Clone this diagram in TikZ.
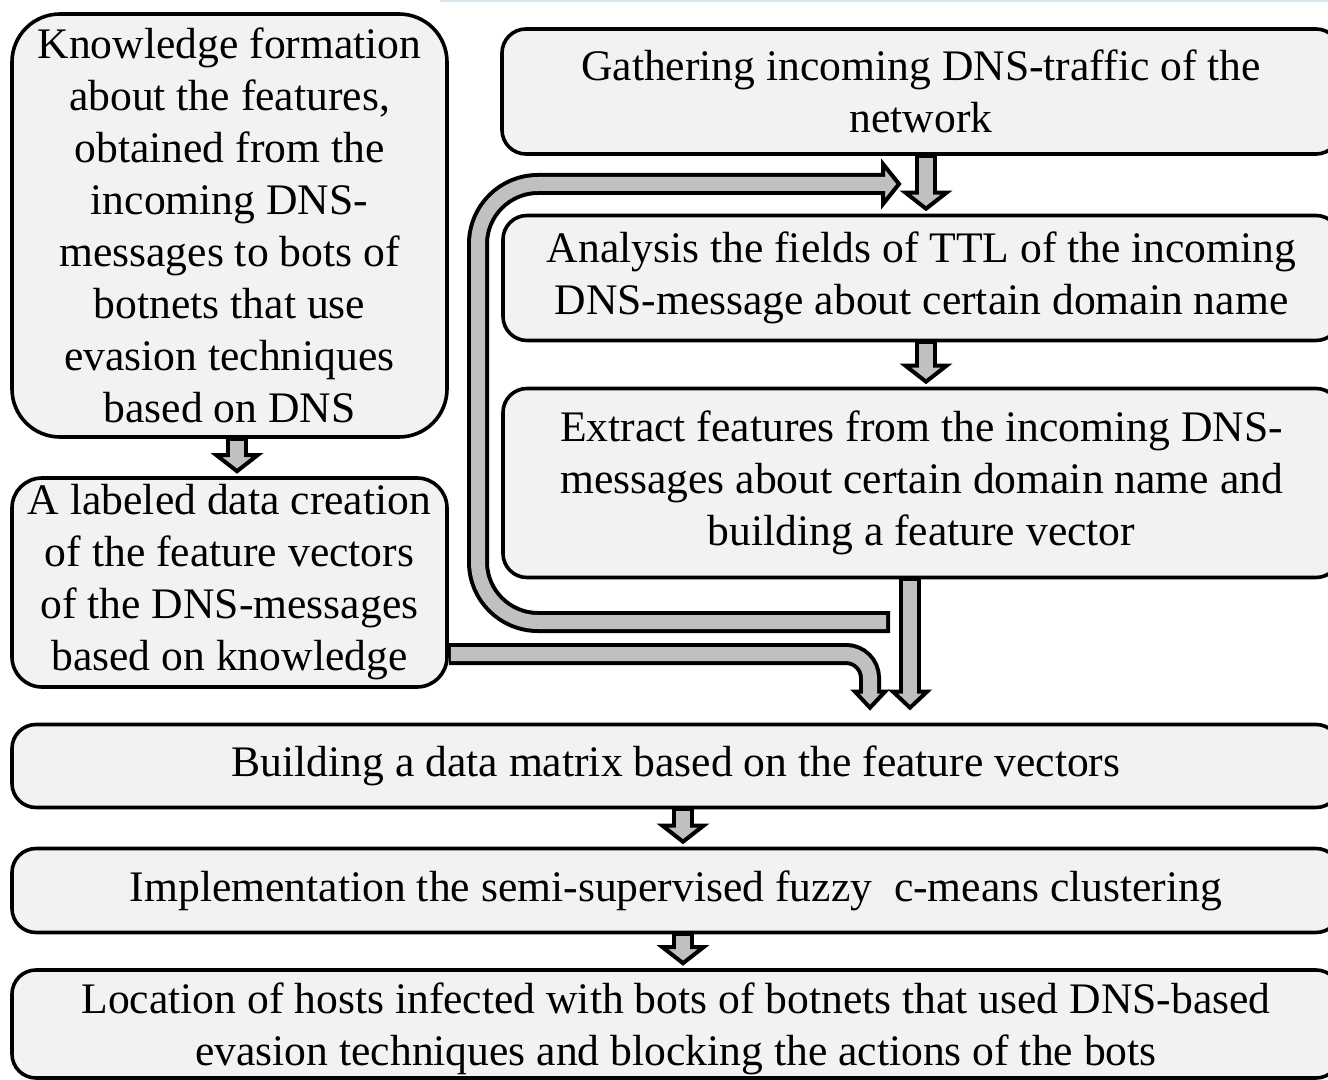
\documentclass[tikz,border=0pt]{standalone}
\usepackage{fontspec}
\setmainfont{Liberation Serif}
\usetikzlibrary{calc}
\definecolor{boxfill}{HTML}{F2F2F2}
\definecolor{flowgray}{HTML}{C0C0C0}
\definecolor{edgeblue}{HTML}{D6E6F0}

% head of a block arrow pointing down / right; #1 = tip, #2 = polygon half-width
\newcommand\headdown[2]{%
  \filldraw[flowhead] ($(#1)+(-#2,-19)$) -- ($(#1)+(#2,-19)$) -- ($(#1)+(0,-3)$) -- cycle;}
\newcommand\headright[2]{%
  \filldraw[flowhead] ($(#1)+(-19,-#2)$) -- ($(#1)+(-19,#2)$) -- ($(#1)+(-3,0)$) -- cycle;}
% straight vertical block arrow from the bottom of #1 to the top of #2 at the x of #3
\newcommand\vflow[3]{%
  \path (#1.south -| #3) coordinate (vs) ($(#2.north -| #3)+(0,-2)$) coordinate (vt);
  \draw[shaftout] (vs) -- ($(vt)+(0,-19)$);
  \headdown{vt}{20.5}
  \draw[shaftin] ($(vs)+(0,2)$) -- ($(vt)+(0,-15)$);}

\begin{document}
\begin{tikzpicture}[x=0.5pt,y=-0.5pt,
  box/.style={draw=black, line width=1.8pt, fill=boxfill, inner sep=0pt,
    align=center, font=\fontsize{21.8}{26}\selectfont},
  shaftout/.style={draw=black, line width=11pt, line cap=butt},
  shaftin/.style={draw=flowgray, line width=7pt, line cap=butt},
  flowhead/.style={fill=flowgray, draw=black, line width=2pt, line join=miter}]
\useasboundingbox (0,0) rectangle (1328,1080);
\clip (0,0) rectangle (1328,1080);
\fill[white] (0,0) rectangle (1328,1080);
\draw[edgeblue, line width=1pt] (440,1) -- (1328,1);

% left column
\node[box, rounded corners=24pt, minimum width=217.5pt, minimum height=211.5pt] (know) at (229.5,225.5)
  {Knowledge formation\\about the features,\\obtained from the\\incoming DNS-\\messages to bots of\\botnets that use\\evasion techniques\\based on DNS};
\node[box, rounded corners=15pt, minimum width=217.5pt, minimum height=104.5pt] (label) at (229.5,582.5)
  {A labeled data creation\\of the feature vectors\\of the DNS-messages\\based on knowledge};

% right column
\node[box, rounded corners=12pt, minimum width=419pt, minimum height=62.5pt] (gather) at (921,91.5)
  {Gathering incoming DNS-traffic of the\\network};
\node[box, rounded corners=12pt, minimum width=418.5pt, minimum height=62.5pt] (ttl) at (921.5,278)
  {Analysis the fields of TTL of the incoming\\DNS-message about certain domain name};
\node[box, rounded corners=12pt, minimum width=418.5pt, minimum height=94.5pt] (extract) at (921.5,483)
  {Extract features from the incoming DNS-\\messages about certain domain name and\\building a feature vector};

% full-width steps
\node[box, rounded corners=12pt, minimum width=664pt, minimum height=41.5pt] (matrix) at (676,766)
  {Building a data matrix based on the feature vectors};
\node[box, rounded corners=12pt, minimum width=664pt, minimum height=42pt] (fcm) at (676,890.5)
  {Implementation the semi-supervised fuzzy\ \ c-means clustering};
\node[box, rounded corners=12pt, minimum width=664pt, minimum height=54pt] (locate) at (676,1024)
  {\rule{0pt}{20pt}Location of hosts infected with bots of botnets that used DNS-based\\evasion techniques and blocking the actions of the bots};

% x positions of the flows
\coordinate (xa) at (926,0);
\coordinate (xk) at (237,0);
\coordinate (xm) at (683,0);
\coordinate (xe) at (910,0);
\coordinate (xl) at (870,0);
\coordinate (xloop) at (478,0);
\coordinate (ly) at (0,654);

\vflow{gather}{ttl}{xa}
\vflow{ttl}{extract}{xa}
\vflow{know}{label}{xk}
\vflow{matrix}{fcm}{xm}
\vflow{fcm}{locate}{xm}

% extracted features into the data matrix
\path (extract.south -| xe) coordinate (es) ($(matrix.north -| xe)+(0,-12)$) coordinate (et);
\draw[shaftout] (es) -- ($(et)+(0,-19)$);
\headdown{et}{17}
\draw[shaftin] ($(es)+(0,2)$) -- ($(et)+(0,-15)$);

% labeled data into the data matrix
\path (label.east |- ly) coordinate (ls) ($(matrix.north -| xl)+(0,-12)$) coordinate (lt);
\draw[shaftout, rounded corners=12pt] (ls) -- (ls -| lt) -- ($(lt)+(0,-19)$);
\headdown{lt}{15}
\draw[shaftin, rounded corners=12pt] ($(ls)+(2,0)$) -- (ls -| lt) -- ($(lt)+(0,-15)$);

% feedback loop back to the TTL analysis
\coordinate (loopstart) at (890,622);
\coordinate (loopend) at (902,184);
\draw[shaftout, rounded corners=30pt] (loopstart) -- (loopstart -| xloop) -- (loopend -| xloop) -- ($(loopend)+(-19,0)$);
\headright{loopend}{20}
\draw[shaftin, rounded corners=30pt] ($(loopstart)+(-4,0)$) -- (loopstart -| xloop) -- (loopend -| xloop) -- ($(loopend)+(-15,0)$);
\end{tikzpicture}
\end{document}
